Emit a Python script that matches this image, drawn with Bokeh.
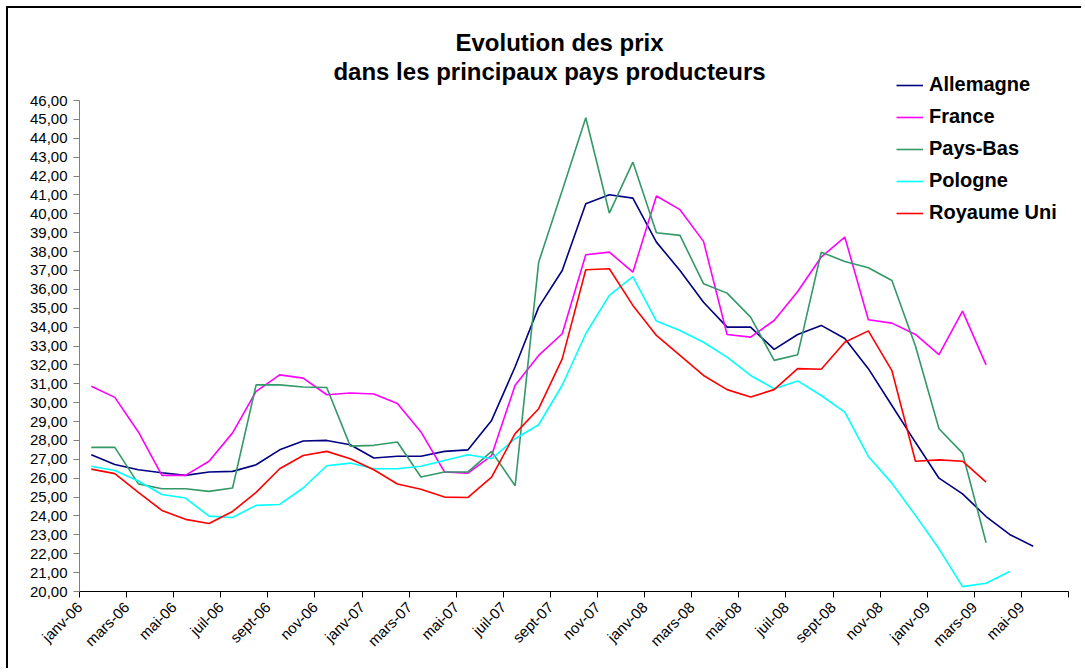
import math
from bokeh.plotting import figure
from bokeh.models import Range1d, FixedTicker, Label, Legend, LegendItem
from bokeh.embed import file_html
from bokeh.resources import INLINE

mois = ["janv", "févr", "mars", "avr", "mai", "juin", "juil", "août", "sept", "oct", "nov", "déc"]
annees = ["06", "07", "08", "09"]
categories = [f"{m}-{a}" for a in annees for m in mois][:42]

allemagne = [27.24, 26.73, 26.45, 26.29, 26.15, 26.33, 26.36, 26.71, 27.5, 27.97, 28.0, 27.77, 27.07, 27.16,
             27.16, 27.42, 27.5, 29.06, 31.9, 35.06, 37.0, 40.53, 41.01, 40.83, 38.5, 37.0, 35.32, 34.0, 34.0,
             32.82, 33.61, 34.09, 33.4, 31.8, 29.85, 27.9, 26.0, 25.17, 23.97, 23.02, 22.4]
france = [30.87, 30.28, 28.45, 26.15, 26.15, 26.9, 28.4, 30.6, 31.47, 31.3, 30.42, 30.51, 30.46, 29.95, 28.45,
          26.33, 26.27, 27.2, 30.92, 32.5, 33.65, 37.83, 37.97, 36.91, 40.94, 40.22, 38.54, 33.61, 33.47, 34.35,
          35.89, 37.71, 38.77, 34.39, 34.21, 33.61, 32.54, 34.85, 32.0]
pays_bas = [27.63, 27.63, 25.7, 25.44, 25.44, 25.3, 25.48, 30.94, 30.94, 30.83, 30.8, 27.7, 27.74, 27.92, 26.06,
            26.33, 26.33, 27.42, 25.6, 37.44, 41.24, 45.09, 40.04, 42.74, 39.0, 38.86, 36.3, 35.8, 34.53, 32.24,
            32.54, 37.97, 37.48, 37.14, 36.47, 33.0, 28.62, 27.33, 22.58]
pologne = [26.63, 26.41, 25.85, 25.14, 24.95, 23.99, 23.92, 24.56, 24.61, 25.48, 26.66, 26.8, 26.5, 26.5, 26.63,
           26.94, 27.24, 27.03, 28.09, 28.83, 30.92, 33.65, 35.68, 36.68, 34.32, 33.82, 33.2, 32.41, 31.44, 30.74,
           31.15, 30.38, 29.5, 27.15, 25.74, 24.03, 22.26, 20.26, 20.44, 21.06]
royaume_uni = [26.48, 26.24, 25.25, 24.29, 23.82, 23.6, 24.24, 25.25, 26.5, 27.2, 27.42, 27.03, 26.45, 25.69,
               25.41, 25.0, 24.98, 26.06, 28.36, 29.68, 32.32, 37.04, 37.09, 35.15, 33.56, 32.5, 31.44, 30.69,
               30.3, 30.69, 31.8, 31.77, 33.2, 33.8, 31.7, 26.9, 26.97, 26.9, 25.79]

series = [
    ("Allemagne", allemagne, "#000080"),
    ("France", france, "#FF00FF"),
    ("Pays-Bas", pays_bas, "#339966"),
    ("Pologne", pologne, "#00FFFF"),
    ("Royaume Uni", royaume_uni, "#FF0000"),
]

titre = ["Evolution des prix", "dans les principaux pays producteurs"]
y_ticks = list(range(20, 47))
Y_MIN, Y_MAX = 20, 46
FONT = "Liberation Sans"

# layout (canvas px): frame from x=71..1060, y=0..583; axis 20..46 occupies 92..583
W, H = 1075, 662
F_LEFT, F_RIGHT, F_BOTTOM = 71, 1060, 583
AXIS_TOP = 92
px_per_unit = (F_BOTTOM - AXIS_TOP) / (Y_MAX - Y_MIN)
y_top = Y_MIN + F_BOTTOM / px_per_unit
n = len(categories)
px_per_cat = (F_RIGHT - F_LEFT) / n


def sx(px):  # canvas x -> data x
    return (px - F_LEFT) / px_per_cat


def sy(py):  # canvas y -> data y
    return Y_MIN + (F_BOTTOM - py) / px_per_unit


p = figure(width=W, height=H, x_range=Range1d(0, n), y_range=Range1d(Y_MIN, y_top),
           output_backend="svg", toolbar_location=None,
           min_border_left=F_LEFT, min_border_right=W - F_RIGHT, min_border_top=0,
           min_border_bottom=H - F_BOTTOM)
p.styles = {"margin-left": "6px", "margin-top": "6px",
            "border-top": "2px solid black", "border-left": "2px solid black"}
p.outline_line_color = None
p.xgrid.visible = False
p.ygrid.visible = False
p.background_fill_color = "white"
p.border_fill_color = "white"

# y axis
p.yaxis.bounds = (Y_MIN, Y_MAX)
p.yaxis.ticker = FixedTicker(ticks=y_ticks)
p.yaxis.major_label_overrides = {v: f"{v},00" for v in y_ticks}
p.yaxis.axis_line_color = "#808080"
p.yaxis.major_tick_line_color = "#808080"
p.yaxis.major_tick_out = 6
p.yaxis.major_tick_in = 0
p.yaxis.minor_tick_line_color = None
p.yaxis.major_label_text_font = FONT
p.yaxis.major_label_text_font_size = "15px"
p.yaxis.major_label_text_color = "black"
p.yaxis.major_label_standoff = 6

# x axis
x_ticks = list(range(0, n + 1, 2))
p.xaxis.ticker = FixedTicker(ticks=x_ticks)
p.xaxis.major_label_overrides = {i: (categories[i] if i < n else "") for i in x_ticks}
p.xaxis.major_label_orientation = math.pi / 4
p.xaxis.axis_line_color = "black"
p.xaxis.major_tick_line_color = "black"
p.xaxis.major_tick_out = 6
p.xaxis.major_tick_in = 0
p.xaxis.minor_tick_line_color = None
p.xaxis.major_label_text_font = FONT
p.xaxis.major_label_text_font_size = "15px"
p.xaxis.major_label_text_color = "black"
p.xaxis.major_label_standoff = 7

items = []
for name, vals, color in series:
    xs = [i + 0.5 for i in range(len(vals))]
    r = p.line(xs, vals, line_color=color, line_width=1.6)
    items.append(LegendItem(label=name, renderers=[r]))

legend = Legend(items=items, location=(817, 367))
legend.label_text_font = FONT
legend.label_text_font_style = "bold"
legend.label_text_font_size = "20px"
legend.label_text_color = "black"
legend.glyph_width = 27
legend.glyph_height = 20
legend.label_height = 20
legend.spacing = 9
legend.label_standoff = 6
legend.padding = 0
legend.margin = 0
legend.border_line_color = None
legend.background_fill_alpha = 0
p.add_layout(legend, "center")

# title (two lines), positions in canvas px converted through the scales
for text, cx, base in [(titre[0], 551, 34), (titre[1], 541, 63)]:
    p.add_layout(Label(x=sx(cx), y=sy(base), text=text,
                       text_font=FONT, text_font_style="bold", text_font_size="24px",
                       text_align="center", text_baseline="alphabetic", text_color="black"))

open("out.html", "w").write(file_html(p, INLINE))
